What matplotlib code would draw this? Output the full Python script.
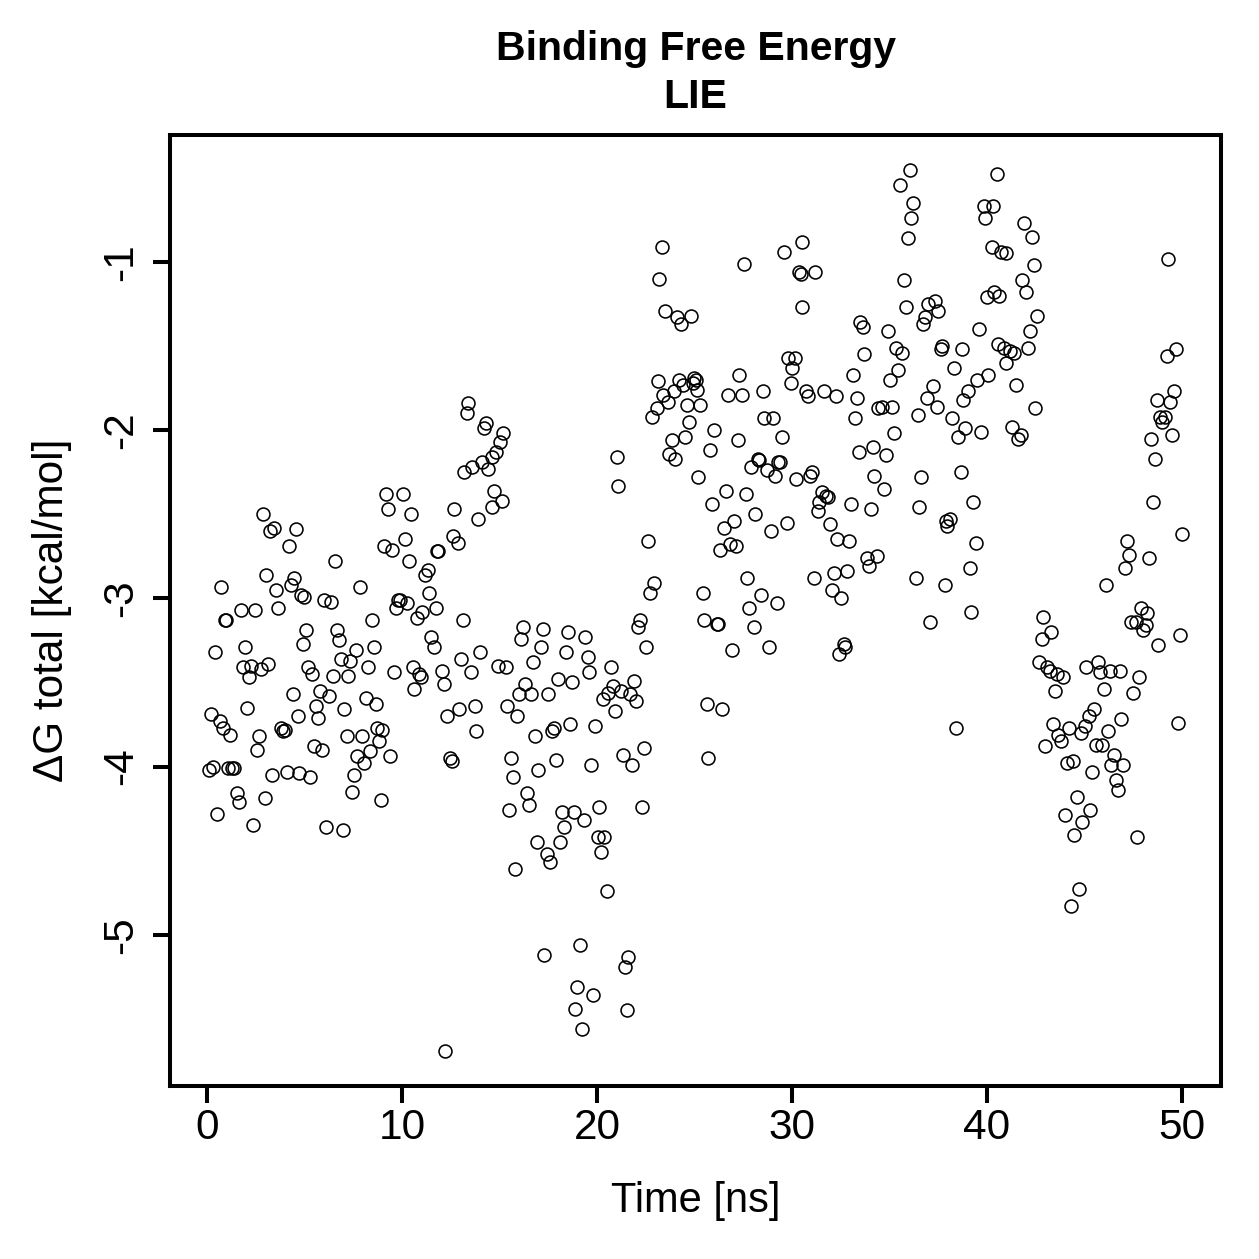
import numpy as np
import matplotlib
matplotlib.use("Agg")
import matplotlib.pyplot as plt

# Binding free energy (LIE) over the trajectory
t_00_10 = [0.1, 0.2, 0.3, 0.4, 0.5, 0.65, 0.7, 0.8, 0.9, 1.0, 1.1, 1.2, 1.3, 1.4,
           1.55, 1.65, 1.75, 1.85, 1.95,
           2.05, 2.15, 2.25, 2.35, 2.45, 2.55, 2.65, 2.75, 2.85, 2.95,
           3.05, 3.15, 3.25, 3.35, 3.45, 3.55, 3.65, 3.8, 3.9,
           4.0, 4.1, 4.2, 4.3, 4.4, 4.45, 4.55, 4.65, 4.7, 4.8, 4.9,
           5.0, 5.1, 5.2, 5.3, 5.4, 5.5, 5.6, 5.7, 5.8, 5.9,
           6.0, 6.1, 6.25, 6.35, 6.45, 6.55, 6.65, 6.75, 6.85, 6.95,
           7.05, 7.2, 7.25, 7.35, 7.45, 7.55, 7.65, 7.7, 7.85, 7.95,
           8.05, 8.15, 8.25, 8.35, 8.45, 8.55, 8.65, 8.7, 8.8, 8.9,
           9.0, 9.1, 9.2, 9.3, 9.4, 9.5, 9.6, 9.7, 9.8, 9.9]
dg_00_10 = [-4.02, -3.69, -4.00, -3.32, -4.28, -3.73, -2.93, -3.77, -3.13, -3.13, -4.01, -3.81, -4.01, -4.01,
            -4.16, -4.21, -3.07, -3.41, -3.29,
            -3.65, -3.47, -3.40, -4.35, -3.07, -3.90, -3.82, -3.42, -2.50, -4.19,
            -2.86, -3.39, -2.60, -4.05, -2.58, -2.95, -3.06, -3.77, -3.79,
            -3.78, -4.03, -2.69, -2.92, -3.57, -2.88, -2.59, -3.70, -4.04, -2.98, -3.27,
            -2.99, -3.19, -3.41, -4.06, -3.45, -3.88, -3.64, -3.71, -3.55, -3.90,
            -3.01, -4.36, -3.58, -3.02, -3.46, -2.78, -3.19, -3.25, -3.36, -4.38,
            -3.66, -3.82, -3.46, -3.37, -4.15, -4.05, -3.31, -3.94, -2.93, -3.82,
            -3.98, -3.59, -3.41, -3.91, -3.13, -3.29, -3.63, -3.77, -3.85, -4.20,
            -3.78, -2.69, -2.38, -2.47, -3.94, -2.71, -3.44, -3.06, -3.01, -3.01]

t_10_20 = [10.03, 10.13, 10.24, 10.34, 10.44, 10.54, 10.64, 10.75, 10.85, 10.95,
           11.05, 11.16, 11.31, 11.41, 11.51, 11.62, 11.72, 11.82, 11.87,
           12.03, 12.13, 12.23, 12.33, 12.44, 12.54, 12.59, 12.69, 12.85, 12.90,
           13.05, 13.15, 13.20, 13.31, 13.41, 13.56, 13.61, 13.72, 13.82, 13.92,
           14.02, 14.12, 14.18, 14.33, 14.43, 14.59, 14.64, 14.74, 14.84, 14.94,
           15.05, 15.15, 15.20, 15.35, 15.40, 15.51, 15.61, 15.71, 15.81, 15.92,
           16.02, 16.12, 16.22, 16.33, 16.43, 16.53, 16.63, 16.73, 16.84, 16.94, 16.99,
           17.14, 17.25, 17.30, 17.45, 17.50, 17.60, 17.71, 17.81, 17.91,
           18.01, 18.12, 18.22, 18.32, 18.42, 18.53, 18.63, 18.73, 18.83, 18.88, 18.99,
           19.14, 19.24, 19.34, 19.40, 19.55, 19.60, 19.70, 19.81, 19.91]
dg_10_20 = [-2.38, -2.65, -3.03, -2.78, -2.50, -3.41, -3.54, -3.12, -3.45, -3.47,
            -3.08, -2.86, -2.83, -2.97, -3.23, -3.29, -3.06, -2.72, -2.72,
            -3.43, -3.51, -5.69, -3.70, -3.95, -3.97, -2.63, -2.47, -2.67, -3.66,
            -3.36, -3.13, -2.25, -1.90, -1.84, -3.44, -2.22, -3.64, -3.79, -2.53,
            -3.32, -2.19, -1.99, -1.96, -2.23, -2.16, -2.46, -2.36, -2.13, -3.40,
            -2.07, -2.42, -2.02, -3.41, -3.64, -4.26, -3.95, -4.06, -4.61, -3.70,
            -3.57, -3.24, -3.17, -3.51, -4.16, -4.23, -3.57, -3.38, -3.82, -4.45, -4.02,
            -3.29, -3.18, -5.12, -4.52, -3.57, -4.57, -3.79, -3.77, -3.96,
            -3.48, -4.45, -4.27, -4.36, -3.32, -3.20, -3.75, -3.50, -4.27, -5.44, -5.31,
            -5.06, -5.56, -4.32, -3.23, -3.35, -3.44, -3.99, -5.36, -3.76]

t_20_30 = [20.06, 20.11, 20.22, 20.32, 20.37, 20.52, 20.57, 20.73, 20.83, 20.93,
           21.03, 21.09, 21.24, 21.34, 21.44, 21.55, 21.60, 21.70, 21.80, 21.90,
           22.01, 22.11, 22.21, 22.31, 22.42, 22.52, 22.62, 22.72, 22.82, 22.93,
           23.08, 23.13, 23.18, 23.34, 23.39, 23.49, 23.64, 23.69, 23.85, 23.95,
           24.00, 24.10, 24.21, 24.31, 24.41, 24.51, 24.62, 24.72, 24.82, 24.92, 24.97,
           25.08, 25.13, 25.18, 25.28, 25.43, 25.49, 25.64, 25.69, 25.79, 25.90,
           26.00, 26.15, 26.20, 26.31, 26.41, 26.51, 26.61, 26.71, 26.82, 26.92,
           27.02, 27.12, 27.23, 27.28, 27.43, 27.53, 27.64, 27.69, 27.79, 27.89,
           28.05, 28.10, 28.25, 28.30, 28.40, 28.51, 28.56, 28.71, 28.81, 28.92,
           29.02, 29.12, 29.22, 29.27, 29.38, 29.48, 29.58, 29.73, 29.78, 29.94, 29.99]
dg_20_30 = [-4.42, -4.24, -4.51, -3.60, -4.42, -4.74, -3.56, -3.41, -3.52, -3.67,
            -2.16, -2.33, -3.55, -3.93, -5.19, -5.45, -5.13, -3.57, -3.99, -3.49,
            -3.61, -3.17, -3.13, -4.24, -3.89, -3.29, -2.66, -2.97, -1.92, -2.91,
            -1.87, -1.71, -1.10, -0.91, -1.79, -1.29, -1.83, -2.14, -2.06, -1.77,
            -2.17, -1.33, -1.70, -1.37, -1.73, -2.04, -1.85, -1.95, -1.32, -1.72, -1.69,
            -1.70, -1.76, -2.28, -1.85, -2.97, -3.13, -3.63, -3.95, -2.12, -2.44,
            -2.00, -3.15, -3.15, -2.71, -3.66, -2.58, -2.36, -1.79, -2.68, -3.31,
            -2.54, -2.69, -2.06, -1.67, -1.79, -1.01, -2.38, -2.88, -3.06, -2.22,
            -3.17, -2.50, -2.17, -2.18, -2.98, -1.77, -1.93, -2.24, -3.29, -2.60,
            -1.93, -2.27, -3.03, -2.19, -2.19, -2.04, -0.94, -2.55, -1.57, -1.72, -1.63]

t_30_40 = [30.14, 30.19, 30.35, 30.45, 30.50, 30.50, 30.71, 30.81, 30.91,
           31.01, 31.12, 31.17, 31.32, 31.37, 31.53, 31.63, 31.73, 31.83, 31.93,
           32.04, 32.14, 32.24, 32.29, 32.40, 32.50, 32.65, 32.70, 32.80, 32.91,
           33.01, 33.11, 33.21, 33.32, 33.42, 33.47, 33.62, 33.68, 33.83, 33.93,
           34.03, 34.14, 34.19, 34.34, 34.39, 34.60, 34.70, 34.80, 34.90,
           35.00, 35.11, 35.21, 35.31, 35.41, 35.52, 35.62, 35.72, 35.82, 35.93,
           36.03, 36.08, 36.18, 36.34, 36.44, 36.49, 36.59, 36.69, 36.80, 36.90, 36.95,
           37.10, 37.21, 37.31, 37.41, 37.51, 37.62, 37.67, 37.82, 37.92, 37.97,
           38.08, 38.18, 38.28, 38.43, 38.49, 38.64, 38.69, 38.79, 38.89,
           39.00, 39.10, 39.20, 39.30, 39.41, 39.51, 39.61, 39.71, 39.82, 39.92]
dg_30_40 = [-1.57, -2.29, -1.06, -1.07, -0.88, -1.27, -1.77, -1.80, -2.27,
            -2.25, -2.88, -1.06, -2.48, -2.43, -2.37, -1.77, -2.39, -2.40, -2.56,
            -2.95, -2.85, -1.80, -2.65, -3.33, -3.00, -3.27, -3.29, -2.84, -2.66,
            -2.44, -1.67, -1.93, -1.81, -2.13, -1.36, -1.39, -1.55, -2.76, -2.81,
            -2.47, -2.10, -2.27, -2.75, -1.87, -1.86, -2.35, -2.15, -1.41,
            -1.70, -1.86, -2.02, -1.51, -1.64, -0.54, -1.54, -1.11, -1.27, -0.86,
            -0.455, -0.74, -0.65, -2.88, -1.91, -2.46, -2.28, -1.37, -1.33, -1.81, -1.25,
            -3.14, -1.74, -1.23, -1.86, -1.29, -1.52, -1.50, -2.92, -2.54, -2.57,
            -2.53, -1.93, -1.63, -3.77, -2.04, -2.25, -1.52, -1.82, -1.99,
            -1.77, -2.82, -3.08, -2.43, -2.67, -1.70, -1.40, -2.01, -0.67, -0.74]

t_40_50 = [40.02, 40.07, 40.23, 40.33, 40.38, 40.53, 40.58, 40.63, 40.74, 40.89, 40.99, 40.99,
           41.20, 41.30, 41.40, 41.50, 41.61, 41.76, 41.81, 41.91,
           42.02, 42.12, 42.22, 42.32, 42.43, 42.48, 42.58, 42.68, 42.84, 42.89, 42.99,
           43.09, 43.24, 43.30, 43.40, 43.50, 43.60, 43.65, 43.81, 43.91,
           44.01, 44.11, 44.22, 44.32, 44.42, 44.47, 44.63, 44.73, 44.83, 44.88,
           45.04, 45.09, 45.24, 45.29, 45.39, 45.50, 45.60, 45.70, 45.80, 45.91,
           46.01, 46.11, 46.21, 46.31, 46.37, 46.52, 46.62, 46.72, 46.83, 46.88, 46.98,
           47.08, 47.19, 47.29, 47.39, 47.49, 47.65, 47.70, 47.80, 47.90,
           48.00, 48.16, 48.21, 48.31, 48.41, 48.52, 48.62, 48.72, 48.77, 48.87, 48.98,
           49.13, 49.23, 49.28, 49.39, 49.49, 49.59, 49.69, 49.80, 49.90, 50.00]
dg_40_50 = [-1.21, -1.67, -0.91, -0.67, -1.18, -0.48, -1.49, -1.20, -0.94, -1.51, -0.95, -1.60,
            -1.53, -1.98, -1.54, -1.73, -2.05, -2.03, -1.11, -0.77,
            -1.18, -1.51, -1.41, -0.85, -1.02, -1.87, -1.32, -3.38, -3.24, -3.11, -3.88,
            -3.41, -3.43, -3.20, -3.75, -3.55, -3.45, -3.81, -3.85, -3.47,
            -4.29, -3.98, -3.77, -4.83, -3.97, -4.41, -4.18, -4.73, -3.80, -4.33,
            -3.76, -3.41, -3.70, -4.26, -4.03, -3.66, -3.87, -3.38, -3.44, -3.87,
            -3.54, -2.92, -3.79, -3.43, -3.99, -3.93, -4.08, -4.14, -3.43, -3.72, -3.99,
            -2.82, -2.66, -2.74, -3.14, -3.56, -3.14, -4.42, -3.47, -3.06,
            -3.19, -3.16, -3.09, -2.76, -2.05, -2.43, -2.17, -1.82, -3.28, -1.92, -1.95,
            -1.92, -1.56, -0.98, -1.83, -2.03, -1.77, -1.52, -3.74, -3.22, -2.62]

x_ticks = [0, 10, 20, 30, 40, 50]
y_ticks = [-5, -4, -3, -2, -1]

time_ns = np.concatenate([t_00_10, t_10_20, t_20_30, t_30_40, t_40_50])
dg_total = np.concatenate([dg_00_10, dg_10_20, dg_20_30, dg_30_40, dg_40_50])

plt.rcParams['font.family'] = ['Liberation Sans', 'DejaVu Sans']

W = 1259
fig = plt.figure(figsize=(W / 100, W / 100), dpi=100)
ax = fig.add_axes([170 / W, 1 - 1086 / W, (1221 - 170) / W, (1086 - 135) / W])

ax.plot(time_ns, dg_total, 'o', markersize=9.3, markerfacecolor='none',
        markeredgecolor='black', markeredgewidth=1.15)

# R style: 4% padding around the data range
xr = np.ptp(time_ns) * 0.04
yr = np.ptp(dg_total) * 0.04
ax.set_xlim(time_ns.min() - xr, time_ns.max() + xr)
ax.set_ylim(dg_total.min() - yr, dg_total.max() + yr)

ax.set_xticks(x_ticks)
ax.set_yticks(y_ticks)
ax.set_xticklabels([str(v) for v in x_ticks])
ax.set_yticklabels([str(v) for v in y_ticks], rotation=90, va='center')
ax.tick_params(axis='both', direction='out', length=12, width=2.9, labelsize=30.5, color='black')
ax.tick_params(axis='x', pad=4)
ax.tick_params(axis='y', pad=9)
for s in ax.spines.values():
    s.set_linewidth(2.9)

fig.text(0.5 * (170 + 1221) / W, 1 - 1201 / W, "Time [ns]", ha='center', va='center', fontsize=30)
fig.text(52 / W, 1 - (0.5 * (135 + 1086)) / W, "ΔG total [kcal/mol]", ha='center', va='center',
         rotation=90, fontsize=30.5)
fig.text(0.5 * (170 + 1221) / W, 1 - 60 / W, "Binding Free Energy", ha='center', va='baseline',
         fontsize=29.5, fontweight='bold')
fig.text(0.5 * (170 + 1221) / W, 1 - 108 / W, "LIE", ha='center', va='baseline',
         fontsize=29.5, fontweight='bold')

fig.savefig("out.png", dpi=100, facecolor='white')
